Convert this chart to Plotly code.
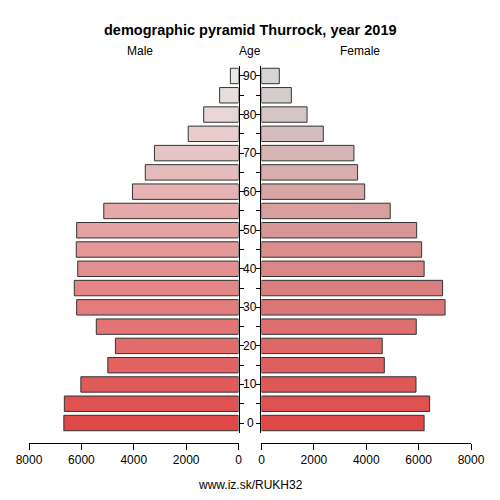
import plotly.graph_objects as go

ages = [0, 5, 10, 15, 20, 25, 30, 35, 40, 45, 50, 55, 60, 65, 70, 75, 80, 85, 90]
age_labels = ["0", "", "10", "", "20", "", "30", "", "40", "", "50", "", "60", "", "70", "", "80", "", "90"]
male = [6670, 6650, 6020, 4990, 4700, 5430, 6180, 6270, 6140, 6195, 6180, 5145, 4050, 3560, 3210, 1920, 1330, 720, 310]
female = [6210, 6420, 5900, 4690, 4610, 5910, 7010, 6915, 6210, 6115, 5925, 4915, 3940, 3670, 3530, 2360, 1740, 1140, 680]
x_ticks = [0, 2000, 4000, 6000, 8000]


def gradient(start, end, n):
    out = []
    for i in range(n):
        t = i / (n - 1)
        c = [round(a + (b - a) * t) for a, b in zip(start, end)]
        out.append("rgb(%d,%d,%d)" % tuple(c))
    return out


male_colors = gradient((224, 72, 72), (233, 231, 231), len(ages))
female_colors = gradient((224, 72, 72), (212, 212, 212), len(ages))

fig = go.Figure()
fig.add_trace(go.Bar(
    x=male, y=ages, orientation="h", width=4,
    marker=dict(color=male_colors, line=dict(color="#333333", width=1)),
    xaxis="x", yaxis="y", showlegend=False,
))
fig.add_trace(go.Bar(
    x=female, y=ages, orientation="h", width=4,
    marker=dict(color=female_colors, line=dict(color="#333333", width=1)),
    xaxis="x2", yaxis="y2", showlegend=False,
))

yrange = [-2.59, 92.59]
font_name = "Liberation Sans, Arial, sans-serif"
axis_font = dict(family=font_name, size=12, color="#000000")

# the page body has an 8px margin, so the margins are shifted to compensate
fig.update_layout(
    template="none",
    width=500, height=500,
    margin=dict(l=21, r=37, t=58, b=65),
    paper_bgcolor="white", plot_bgcolor="white",
    font=axis_font,
    xaxis=dict(domain=[0, 0.474], range=[8000, 0], tickvals=x_ticks,
               anchor="free", position=0, showline=True, linecolor="#000000",
               ticks="outside", ticklen=6, tickcolor="#000000", automargin=False,
               showgrid=False, zeroline=False, tickfont=axis_font),
    xaxis2=dict(domain=[0.526, 1], range=[0, 8000], tickvals=x_ticks,
                anchor="free", position=0, showline=True, linecolor="#000000",
                ticks="outside", ticklen=6, tickcolor="#000000", automargin=False,
                showgrid=False, zeroline=False, tickfont=axis_font),
    yaxis=dict(domain=[0.0265, 1], range=yrange, anchor="x", side="right",
               tickvals=ages, showticklabels=False, ticks="outside", ticklen=4,
               tickcolor="#000000", showline=True, linecolor="#000000",
               showgrid=False, zeroline=False, automargin=False),
    yaxis2=dict(domain=[0.0265, 1], range=yrange, anchor="x2", side="left",
                tickvals=ages, showticklabels=False, ticks="outside", ticklen=4,
                tickcolor="#000000", showline=True, linecolor="#000000",
                showgrid=False, zeroline=False, automargin=False),
)

for a, lab in zip(ages, age_labels):
    if lab:
        fig.add_annotation(x=0.5, xref="paper", y=a, yref="y", text=lab,
                           showarrow=False, font=axis_font, xanchor="center")

head = [
    ("<b>demographic pyramid Thurrock, year 2019</b>", 250, 30, 14.5),
    ("Male", 140, 51, 12),
    ("Age", 250, 51, 12),
    ("Female", 360, 51, 12),
    ("www.iz.sk/RUKH32", 250, 485, 12),
]
for text, px, py, size in head:
    fig.add_annotation(x=(px - 29) / 442, xref="paper", y=(443 - py) / 377, yref="paper",
                       text=text, showarrow=False, xanchor="center", yanchor="middle",
                       font=dict(family=font_name, size=size, color="#000000"))

fig.write_html("out.html")
